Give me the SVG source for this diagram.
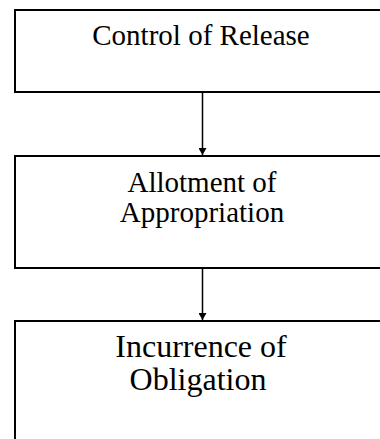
<svg xmlns="http://www.w3.org/2000/svg" width="380" height="439" viewBox="0 0 380 439">
  <style>
    .box { fill: #ffffff; stroke: #000000; stroke-width: 2; }
    .lbl { font-family: "Liberation Serif", "Times New Roman", serif; fill: #000000; text-anchor: middle; }
    .conn { stroke: #000000; stroke-width: 1.5; fill: none; marker-end: url(#arrow); }
  </style>
  <defs>
    <marker id="arrow" markerWidth="8" markerHeight="8" refX="7" refY="4" orient="auto" markerUnits="userSpaceOnUse">
      <path d="M0,0 L7,4 L0,8 Z" fill="#000000"/>
    </marker>
  </defs>
  <rect width="380" height="439" fill="#ffffff"/>

  <g id="connectors">
    <line class="conn" x1="202.5" y1="93" x2="202.5" y2="155"/>
    <line class="conn" x1="202.5" y1="268" x2="202.5" y2="320"/>
  </g>

  <g id="control-of-release">
    <rect class="box" x="15" y="10" width="380" height="82"/>
    <text class="lbl" x="201" y="45" font-size="29">Control of Release</text>
  </g>

  <g id="allotment-of-appropriation">
    <rect class="box" x="15" y="156" width="380" height="112"/>
    <text class="lbl" x="202" y="192" font-size="29">Allotment of</text>
    <text class="lbl" x="202" y="222" font-size="29">Appropriation</text>
  </g>

  <g id="incurrence-of-obligation">
    <rect class="box" x="15" y="321" width="380" height="140"/>
    <text class="lbl" x="201" y="357" font-size="32">Incurrence of</text>
    <text class="lbl" x="198" y="390" font-size="32">Obligation</text>
  </g>
</svg>
